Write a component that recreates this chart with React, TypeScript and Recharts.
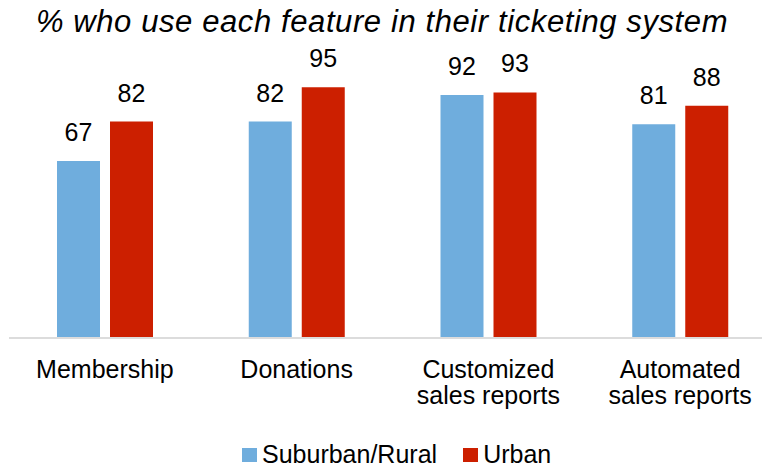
import { BarChart, Bar, XAxis, YAxis, LabelList } from 'recharts'

const categories = ['Membership', 'Donations', 'Customized\nsales reports', 'Automated\nsales reports']
const suburbanRural = [67, 82, 92, 81]
const urban = [82, 95, 93, 88]
const seriesNames = ['Suburban/Rural', 'Urban']

const BLUE = '#6FADDD'
const RED = '#CC1F00'
const FONT = '"Liberation Sans", Arial, sans-serif'

const chartData = categories.map((name, i) => ({
  name,
  suburbanRural: suburbanRural[i],
  urban: urban[i],
}))

const CategoryTick = ({ x, y, payload }: any) => {
  const lines = String(payload.value).split('\n')
  return (
    <text x={x} y={y} textAnchor="middle" fill="#000" fontSize={25} fontFamily={FONT}>
      {lines.map((line, i) => (
        <tspan key={i} x={x} dy={i === 0 ? 32 : 26}>
          {line}
        </tspan>
      ))}
    </text>
  )
}

export default function App() {
  return (
    <div style={{ position: 'absolute', left: 0, top: 0, width: 762, height: 470, overflow: 'hidden', background: '#fff' }}>
      <div
        style={{
          position: 'absolute',
          left: 0,
          top: 6,
          width: 764,
          textAlign: 'center',
          fontFamily: FONT,
          fontStyle: 'italic',
          fontSize: 31,
          lineHeight: '31px',
          letterSpacing: 0.6,
          color: '#000',
        }}
      >
        % who use each feature in their ticketing system
      </div>
      <BarChart
        width={790}
        height={470}
        data={chartData}
        margin={{ top: 74, right: 14, bottom: 52, left: 9 }}
        barCategoryGap={48}
        barGap={10}
      >
        <XAxis
          dataKey="name"
          axisLine={{ stroke: '#DCDCDC', strokeWidth: 2 }}
          tickLine={false}
          tick={<CategoryTick />}
          height={80}
          interval={0}
        />
        <YAxis hide domain={[0, 100]} />
        <Bar dataKey="suburbanRural" name={seriesNames[0]} fill={BLUE} barSize={43} isAnimationActive={false}>
          <LabelList dataKey="suburbanRural" position="top" offset={20} fill="#000" fontSize={25} fontFamily={FONT} />
        </Bar>
        <Bar dataKey="urban" name={seriesNames[1]} fill={RED} barSize={43} isAnimationActive={false}>
          <LabelList dataKey="urban" position="top" offset={20} fill="#000" fontSize={25} fontFamily={FONT} />
        </Bar>
      </BarChart>
      <div
        style={{
          position: 'absolute',
          left: 242,
          top: 440,
          display: 'flex',
          fontFamily: FONT,
          fontSize: 25,
          lineHeight: '29px',
          color: '#000',
        }}
      >
        {seriesNames.map((s, i) => (
          <span key={s} style={{ display: 'flex', alignItems: 'center', marginRight: i === 0 ? 26 : 0 }}>
            <span style={{ width: 15, height: 14, background: i === 0 ? BLUE : RED, marginRight: 5 }} />
            {s}
          </span>
        ))}
      </div>
    </div>
  )
}
